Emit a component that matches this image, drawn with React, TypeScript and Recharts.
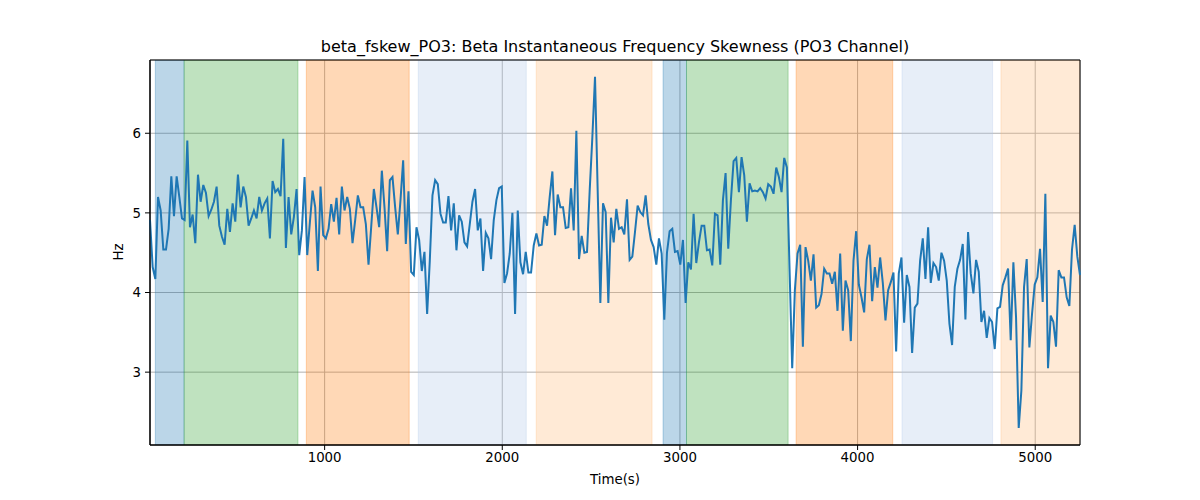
import React from 'react';
import { ComposedChart, Line, XAxis, YAxis, CartesianGrid, ReferenceArea } from 'recharts';

// sampling grid of the skewness series (seconds)
const T0 = 17;
const DT = 15;

// beta instantaneous frequency skewness, PO3 channel (Hz)
const skew: number[] = [
  4.91, 4.32, 4.17, 5.2, 5.03, 4.54, 4.54, 4.8, 5.46, 4.96,
  5.46, 5.2, 4.93, 4.91, 5.91, 4.82, 4.98, 4.62, 5.48, 5.14,
  5.35, 5.25, 4.96, 5.04, 5.14, 5.33, 4.84, 4.7, 4.6, 5.05,
  4.76, 5.12, 4.89, 5.48, 5.07, 5.33, 5.2, 4.84, 4.93, 5.03,
  4.93, 5.2, 5.03, 5.12, 5.18, 4.68, 5.4, 5.26, 5.3, 5.21,
  5.93, 4.56, 5.2, 4.73, 4.95, 5.3, 4.47, 4.78, 5.45, 4.47,
  4.88, 5.28, 5.07, 4.27, 5.33, 4.72, 4.68, 4.8, 5.11, 4.89,
  5.19, 4.73, 5.33, 5.03, 5.2, 5.05, 4.62, 4.91, 5.22, 5.07,
  5.07, 4.86, 4.35, 4.82, 5.3, 5.07, 4.82, 5.53, 5.07, 4.52,
  5.41, 5.45, 5.07, 4.73, 5.16, 5.66, 4.61, 5.27, 4.26, 4.22,
  4.82, 4.66, 4.27, 4.51, 3.73, 4.4, 5.22, 5.41, 5.36, 4.99,
  4.88, 4.88, 5.21, 4.78, 5.12, 4.53, 4.97,
  4.89, 4.63, 4.58, 4.86, 5.14, 5.3, 4.78, 4.93, 4.27, 4.75,
  4.68, 4.42, 4.91, 5.16, 5.31, 5.33, 4.12, 4.24, 4.49, 5.0,
  3.73, 5.03, 4.38, 4.23, 4.51, 4.25, 4.25, 4.59, 4.74, 4.59,
  4.6, 4.96, 4.84, 5.2, 5.52, 4.72, 5.23, 5.07, 5.07, 4.81,
  4.82, 5.31, 4.78, 6.03, 4.42, 4.71, 4.5, 4.51, 5.28, 5.95,
  6.71, 5.28, 3.87, 5.12, 5.01, 3.87,
  4.94, 4.63, 5.05, 4.8, 4.82, 4.73, 5.17, 4.41, 4.45, 4.76,
  5.09, 5.01, 4.97, 5.22, 4.86, 4.66, 4.57, 4.35, 4.68, 4.49,
  3.66, 4.5, 4.77, 4.8, 4.51, 4.52, 4.35, 4.66, 3.87, 4.38,
  4.29, 4.99, 4.37, 4.63, 4.84, 4.84, 4.53, 4.54, 4.34, 4.99,
  4.97, 4.35, 5.16, 5.5, 4.55, 5.16, 5.65, 5.69, 5.26, 5.7,
  5.47, 4.89, 5.37, 5.27, 5.28, 5.27, 5.31,
  5.26, 5.18, 5.36, 5.33, 5.24, 5.57, 5.45, 5.26, 5.69, 5.57,
  4.3, 3.05, 4.03, 4.49, 4.6, 3.32, 4.57, 4.4, 4.15, 4.48,
  3.81, 3.84, 3.98, 4.3, 4.24, 4.24, 4.11, 4.26, 3.77, 4.49,
  3.52, 4.15, 4.03, 3.39, 4.4, 4.77, 4.1, 3.94, 3.75, 4.42,
  4.6, 3.89, 4.32, 4.06, 4.44, 4.12, 3.65, 4.03, 4.13, 4.25,
  3.26, 4.24, 4.44, 3.62, 4.22, 4.07, 3.24, 3.81, 3.86, 4.4,
  4.68, 4.17, 4.82, 4.12, 4.37, 4.32, 4.15, 4.5, 4.4, 4.15,
  3.61, 3.34, 4.07, 4.3, 4.41, 4.61, 3.66, 4.76, 4.24, 3.99,
  4.41, 4.26, 3.63, 3.77, 3.43, 3.68, 3.63, 3.29, 3.8, 3.82,
  4.09, 4.19, 4.3, 3.4, 4.38, 3.69, 2.3, 2.77, 4.07, 4.42,
  3.31, 3.73, 4.1, 4.19, 4.55, 3.88, 5.24, 3.05, 3.71, 3.63,
  3.32, 4.28, 4.19, 4.19, 3.94, 3.83, 4.54, 4.85, 4.45, 4.22,
];

// shaded task phases (seconds) and which phase type each one is
const phaseStart = [47, 209, 897, 1527, 2191, 2905, 3037, 3654, 4250, 4807];
const phaseEnd = [209, 850, 1476, 2135, 2843, 3037, 3609, 4198, 4760, 5252];
const phaseKind = [0, 1, 2, 3, 4, 0, 1, 2, 3, 4];

const xTicks = [1000, 2000, 3000, 4000, 5000];
const yTicks = [3, 4, 5, 6];
const yDomain = [2.085, 6.92];

const PHASE_COLORS = ['#1f77b4', '#2ca02c', '#ff7f0e', '#aec7e8', '#ffbb78'];
const FONT = "'DejaVu Sans', sans-serif";

const data = skew.map((v, i) => ({ t: T0 + i * DT, v }));
const tStart = data[0].t;
const tEnd = data[data.length - 1].t;

const tickStyle = { fill: '#000', fontSize: 13.33, fontFamily: FONT };

export default function App() {
  return (
    <div style={{ position: 'absolute', left: 0, top: 0, width: 1200, height: 500, background: '#fff' }}>
      <div
        style={{
          position: 'absolute', left: 15, top: 38, width: 1200, textAlign: 'center',
          fontFamily: FONT, fontSize: 16, lineHeight: '18px', color: '#000',
        }}
      >
        beta_fskew_PO3: Beta Instantaneous Frequency Skewness (PO3 Channel)
      </div>
      <ComposedChart width={1200} height={500} data={data} margin={{ top: 60, right: 120, bottom: 0, left: 0 }}>
        {phaseStart.map((s, i) => (
          <ReferenceArea
            key={`phase-${i}`}
            x1={s}
            x2={phaseEnd[i]}
            ifOverflow="hidden"
            fill={PHASE_COLORS[phaseKind[i]]}
            fillOpacity={0.3}
            stroke={PHASE_COLORS[phaseKind[i]]}
            strokeOpacity={0.3}
          />
        ))}
        <CartesianGrid stroke="#b0b0b0" strokeWidth={1} />
        <XAxis
          dataKey="t"
          type="number"
          domain={['dataMin', 'dataMax']}
          ticks={xTicks}
          height={55}
          tickSize={5}
          tickMargin={3}
          tick={tickStyle}
          axisLine={{ stroke: '#000' }}
          tickLine={{ stroke: '#000' }}
        />
        <YAxis
          type="number"
          domain={yDomain}
          ticks={yTicks}
          allowDataOverflow
          width={150}
          tickSize={5}
          tickMargin={4}
          tick={tickStyle}
          axisLine={{ stroke: '#000' }}
          tickLine={{ stroke: '#000' }}
        />
        <Line
          type="linear"
          dataKey="v"
          stroke="#1f77b4"
          strokeWidth={2}
          dot={false}
          isAnimationActive={false}
        />
        <ReferenceArea
          x1={tStart}
          x2={tEnd}
          y1={yDomain[0]}
          y2={yDomain[1]}
          fill="none"
          stroke="#000"
          strokeWidth={1}
          ifOverflow="visible"
        />
      </ComposedChart>
      <div
        style={{
          position: 'absolute', left: 0, top: 472, width: 1230, textAlign: 'center',
          fontFamily: FONT, fontSize: 13.33, lineHeight: '16px', color: '#000',
        }}
      >
        Time(s)
      </div>
      <div
        style={{
          position: 'absolute', left: 119, top: 252, transform: 'translate(-50%, -50%) rotate(-90deg)',
          fontFamily: FONT, fontSize: 13.33, lineHeight: '16px', color: '#000',
        }}
      >
        Hz
      </div>
    </div>
  );
}
